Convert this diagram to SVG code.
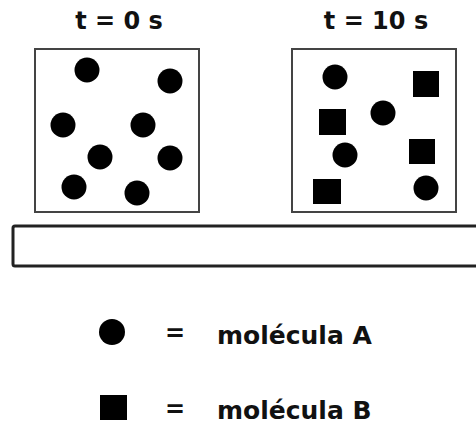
<svg xmlns="http://www.w3.org/2000/svg" width="476" height="424" viewBox="0 0 476 424">
<style>
text{font-family:"DejaVu Sans","Verdana",sans-serif;font-weight:bold;fill:#111}
.box{fill:#fff;stroke:#444;stroke-width:2}
.m{fill:#000}
</style>
<rect width="476" height="424" fill="#fff"/>
<g id="box0">
<text x="119" y="29" font-size="24" text-anchor="middle">t = 0 s</text>
<rect class="box" x="35" y="49" width="164" height="163"/>
<circle class="m" cx="87" cy="70" r="12.5"/>
<circle class="m" cx="170" cy="81" r="12.5"/>
<circle class="m" cx="63" cy="125" r="12.5"/>
<circle class="m" cx="143" cy="125" r="12.5"/>
<circle class="m" cx="100" cy="157" r="12.5"/>
<circle class="m" cx="170" cy="158" r="12.5"/>
<circle class="m" cx="74" cy="187" r="12.5"/>
<circle class="m" cx="137" cy="193" r="12.5"/>
</g>
<g id="box10">
<text x="376" y="29" font-size="24" text-anchor="middle">t = 10 s</text>
<rect class="box" x="292" y="49" width="164" height="163"/>
<circle class="m" cx="335" cy="77" r="12.5"/>
<rect class="m" x="413" y="71" width="26" height="26"/>
<circle class="m" cx="383" cy="113" r="12.5"/>
<rect class="m" x="319" y="109" width="27" height="26"/>
<circle class="m" cx="345" cy="155" r="12.5"/>
<rect class="m" x="409" y="139" width="26" height="25"/>
<rect class="m" x="313" y="179" width="28" height="25"/>
<circle class="m" cx="426" cy="188" r="12.5"/>
</g>
<g id="bar">
<rect x="13" y="226" width="470" height="40" rx="2" fill="#fff" stroke="#222" stroke-width="3"/>
</g>
<g id="legendA">
<circle class="m" cx="112" cy="332" r="13"/>
<text x="175" y="341" font-size="24" text-anchor="middle">=</text>
<text x="217" y="344" font-size="25">molécula A</text>
</g>
<g id="legendB">
<rect class="m" x="100" y="395" width="27" height="25"/>
<text x="175" y="417" font-size="24" text-anchor="middle">=</text>
<text x="217" y="419" font-size="25">molécula B</text>
</g>
</svg>
